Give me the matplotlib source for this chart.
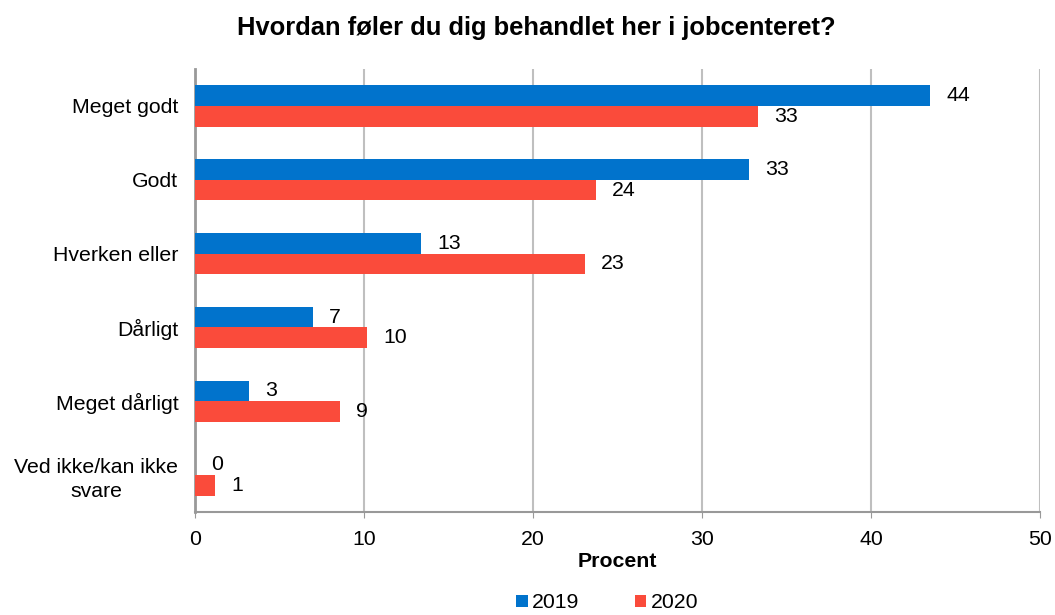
import matplotlib
matplotlib.use("Agg")
import matplotlib.pyplot as plt
import numpy as np

plt.rcParams['font.family'] = ['Liberation Sans', 'DejaVu Sans']

categories = ["Meget godt", "Godt", "Hverken eller", "Dårligt", "Meget dårligt", "Ved ikke/kan ikke\nsvare"]
values_2019 = [43.5, 32.8, 13.4, 7.0, 3.2, 0.0]
values_2020 = [33.3, 23.7, 23.1, 10.2, 8.6, 1.2]
labels_2019 = ["44", "33", "13", "7", "3", "0"]
labels_2020 = ["33", "24", "23", "10", "9", "1"]
series_names = ["2019", "2020"]
colors = ["#0173CC", "#FA4B3B"]
xticks = [0, 10, 20, 30, 40, 50]

FS = 15.3
fig = plt.figure(figsize=(10.55, 6.15), dpi=100)
ax = fig.add_axes([195/1055, 1-512/615, (1040-195)/1055, (512-69)/615])

y = np.arange(len(categories))
h = 0.28
b1 = ax.barh(y - h/2, values_2019, height=h, color=colors[0], label=series_names[0], zorder=3)
b2 = ax.barh(y + h/2, values_2020, height=h, color=colors[1], label=series_names[1], zorder=3)

for bars, labs in ((b1, labels_2019), (b2, labels_2020)):
    for bar, lab in zip(bars, labs):
        ax.annotate(lab, (bar.get_width(), bar.get_y() + bar.get_height()/2),
                    xytext=(11.5, 0), textcoords='offset points', ha='left', va='center',
                    fontsize=FS, color='black')

ax.set_ylim(len(categories) - 0.5, -0.5)
ax.set_xlim(0, 50)
ax.set_xticks(xticks)
ax.set_xticklabels([str(t) for t in xticks], fontsize=FS)
ax.set_yticks(y)
ax.set_yticklabels(categories, fontsize=FS, multialignment='center', linespacing=1.3)
ax.tick_params(axis='y', length=0, pad=12)
ax.tick_params(axis='x', length=4, color='#999999', pad=9)
ax.xaxis.grid(True, color='#BFBFBF', linewidth=1.5, zorder=0)
ax.set_axisbelow(True)
for s in ('top', 'right'):
    ax.spines[s].set_visible(False)
ax.spines['left'].set_color('#999999')
ax.spines['left'].set_linewidth(2)
ax.spines['bottom'].set_color('#999999')
ax.spines['bottom'].set_linewidth(1.5)

ax.set_xlabel("Procent", fontsize=FS, fontweight='bold', labelpad=2)
fig.text(536/1055, 1-28/615, "Hvordan føler du dig behandlet her i jobcenteret?",
         ha='center', va='center', fontsize=18.4, fontweight='bold')

leg = fig.legend(handles=[b1, b2], labels=series_names, loc='center', ncol=2,
                 bbox_to_anchor=(607/1055, 1-603/615), frameon=False, fontsize=FS,
                 handlelength=0.55, handleheight=0.55, handletextpad=0.2, columnspacing=2.6)

fig.savefig("out.png", dpi=100)
